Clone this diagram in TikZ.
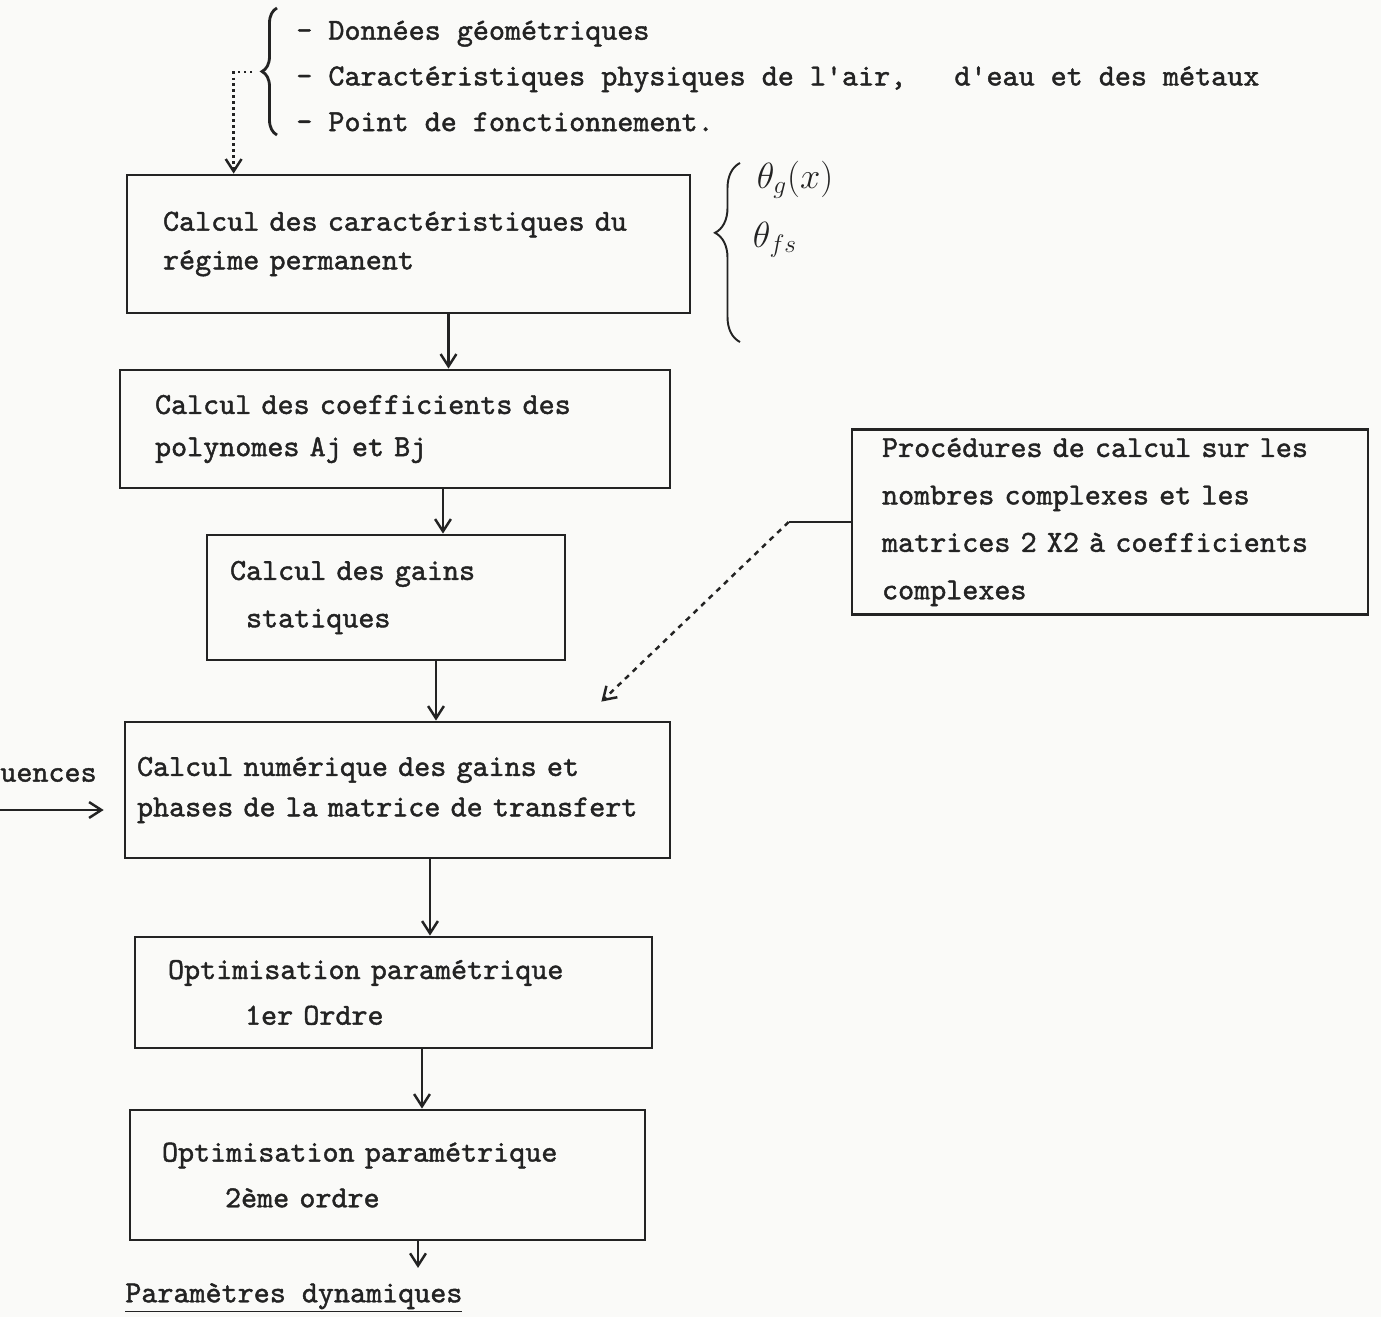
\documentclass[tikz,border=0pt]{standalone}
\usepackage{fontspec}
\usetikzlibrary{arrows.meta,decorations.pathreplacing}
\definecolor{ink}{RGB}{35,35,35}
\definecolor{paper}{RGB}{250,250,248}
\newfontfamily\typefont{lmmono10-regular.otf}[FakeBold=1.4]
\newcommand\typo[1][25]{\typefont\fontsize{17.4}{#1}\selectfont}

\begin{document}
\begin{tikzpicture}[x=0.02cm, y=-0.02cm, >={Straight Barb[length=7pt,width=9pt]},
    stage/.style={draw=ink, line width=1.6pt, align=left, inner ysep=0pt, text=ink, font=\typo},
    flow/.style={->, draw=ink, line width=1.4pt},
    note/.style={text=ink, font=\typo, inner sep=0pt, anchor=west}]
    \fill[paper] (0,0) rectangle (1381,1317);
    \useasboundingbox (0,0) rectangle (1381,1317);

    % donnees d'entree
    \node[note, align=left, font={\typo[26]}] (inputs) at (296,76) {- Données géométriques\\- Caractéristiques physiques de l'air,\ \ \ d'eau et des métaux\\- Point de fonctionnement.};
    \draw[ink, line width=1.6pt, decorate, decoration={brace, amplitude=.3cm}] (277,135) -- (277,8);
    \coordinate (feed) at (252,72);

    % chaine de calcul
    \node[stage, text width=9.82cm, inner xsep=.72cm, minimum height=2.76cm, font={\typo[22]}] (regime) at (408.5,244) {Calcul des caractéristiques du\\régime permanent};
    \node[stage, text width=9.6cm, inner xsep=.7cm, minimum height=2.36cm, font={\typo[24]}] (coeffs) at (395,429) {Calcul des coefficients des\\polynomes Aj et Bj};
    \node[stage, text width=6.24cm, inner xsep=.46cm, minimum height=2.5cm, font={\typo[27]}] (statiques) at (386,597.5) {Calcul des gains\\\hspace*{.32cm}statiques};
    \node[stage, text width=10.42cm, inner xsep=.24cm, minimum height=2.72cm, font={\typo[23]}] (transfert) at (397.5,790) {Calcul numérique des gains et\\\mbox{phases de la matrice de transfert}};
    \node[stage, text width=9.02cm, inner xsep=.66cm, minimum height=2.22cm, font={\typo[26]}] (ordre1) at (393.5,992.5) {Optimisation paramétrique\\\hspace*{1.54cm}1er Ordre};
    \node[stage, text width=9.02cm, inner xsep=.64cm, minimum height=2.6cm, font={\typo[26]}] (ordre2) at (387.5,1175) {Optimisation paramétrique\\\hspace*{1.26cm}2ème ordre};
    \node[note] (sortie) at (125,1298) {\underline{Paramètres dynamiques}};

    % procedures annexes
    \node[stage, text width=9.12cm, inner xsep=.6cm, minimum height=3.7cm, font={\typo[27]}] (complexes) at (1110,522) {Procédures de calcul sur les\\nombres complexes et les\\matrices 2 X2 à coefficients\\complexes};

    \node[note] (freq) at (0,775) {uences};
    \coordinate (fin) at (0,810);

    % annotation a la main
    \draw[ink, line width=1.1pt, decorate, decoration={brace, amplitude=.5cm, aspect=.61}] (740,342) -- (740,163);
    \node[ink, font=\huge] (thg) at (795,180) {$\theta_g(x)$};
    \node[ink, font=\huge] (thf) at (775,240) {$\theta_{fs}$};

    % liaisons
    \draw[ink, dotted, line width=1.4pt, ->] (feed) -| ([xshift=2.16cm]regime.north west);
    \draw[flow] ([xshift=.8cm]regime.south) -- ([xshift=.8cm]regime.south |- coeffs.north);
    \draw[flow] ([xshift=.96cm]coeffs.south) -- ([xshift=.96cm]coeffs.south |- statiques.north);
    \draw[flow] ([xshift=1cm]statiques.south) -- ([xshift=1cm]statiques.south |- transfert.north);
    \draw[flow] ([xshift=.65cm]transfert.south) -- ([xshift=.65cm]transfert.south |- ordre1.north);
    \draw[flow] ([xshift=.57cm]ordre1.south) -- ([xshift=.57cm]ordre1.south |- ordre2.north);
    \draw[flow, shorten >=.3cm] ([xshift=.61cm]ordre2.south) -- ([xshift=.61cm]ordre2.south |- sortie.north);
    \draw[flow, shorten >=.4cm] (fin) -- (fin -| transfert.west);
    \draw[ink, line width=1.6pt] (complexes.west) -- ++(-62,0) coordinate (coude);
    \draw[flow, dashed] (coude) -- ([xshift=-1.4cm, yshift=.38cm]transfert.north east);
\end{tikzpicture}
\end{document}
